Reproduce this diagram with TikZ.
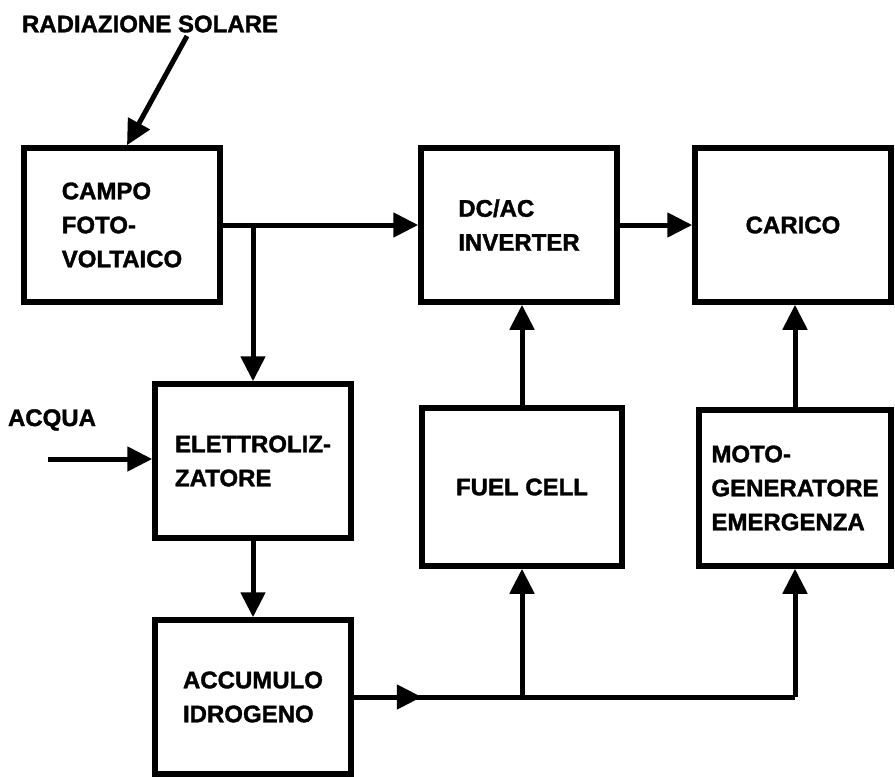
\documentclass[tikz,border=0pt]{standalone}
\usepackage{fontspec}
\setmainfont{Liberation Sans}[BoldFeatures={FakeBold=1.5}]
\usepackage{tikz}
\usetikzlibrary{positioning,arrows.meta}

\begin{document}
\begin{tikzpicture}[x=1pt, y=-1pt,
    box/.style={draw, line width=5.5pt, minimum width=196pt, minimum height=154pt,
                align=left, font=\fontsize{24}{34}\selectfont\bfseries},
    lbl/.style={font=\fontsize{24}{34}\selectfont\bfseries},
    arr/.style={-{Triangle[length=25pt,width=24pt]}, line width=5pt},
    wire/.style={line width=5pt}
  ]
    \useasboundingbox (0,0) rectangle (895,777);
    % blocchi
    \node[box] (campo) at (122,225) {CAMPO\\FOTO-\\VOLTAICO};
    \node[box] (inv) at (519,225) {DC/AC\\INVERTER};
    \node[box] (carico) at (793,225) {CARICO};
    \node[box] (elettro) at (253,461) {ELETTROLIZ-\\ZATORE};
    \node[box, minimum width=200pt, minimum height=158pt] (fuel) at (522,487) {FUEL CELL};
    \node[box, minimum width=192pt, minimum height=156pt] (moto) at (795,488) {MOTO-\\GENERATORE\\EMERGENZA};
    \node[box] (accum) at (253,697) {ACCUMULO\\IDROGENO};
    % ingressi
    \node[lbl] (sole) at (150,24) {RADIAZIONE SOLARE};
    \node[lbl] (acqua) at (52,420) {ACQUA};
    \coordinate (raggio) at ([xshift=37pt]sole.south);
    \coordinate (acq) at (48,459);
    \coordinate (split) at (campo.east -| elettro.north);
    \coordinate (fcbranch) at (fuel.south |- accum.east);
    \coordinate (mgbranch) at (moto.south |- accum.east);
    % collegamenti
    \draw[arr] (raggio) -- ([xshift=5pt]campo.north);
    \draw[arr] (campo.east) -- (inv.west);
    \draw[arr] (split) -- (elettro.north);
    \draw[arr] (inv.east) -- (carico.west);
    \draw[arr] (acq) -- (acq -| elettro.west);
    \draw[arr] (elettro.south) -- (accum.north);
    \draw[arr] (accum.east) -- ++(68,0) coordinate (h2);
    \draw[wire] ([xshift=-12pt]h2) -- (mgbranch);
    \draw[arr] (fcbranch) -- (fuel.south);
    \draw[arr] (mgbranch) -- (moto.south);
    \draw[arr] (fuel.north) -- (fuel.north |- inv.south);
    \draw[arr] (moto.north) -- (moto.north |- carico.south);
  \end{tikzpicture}
\end{document}
